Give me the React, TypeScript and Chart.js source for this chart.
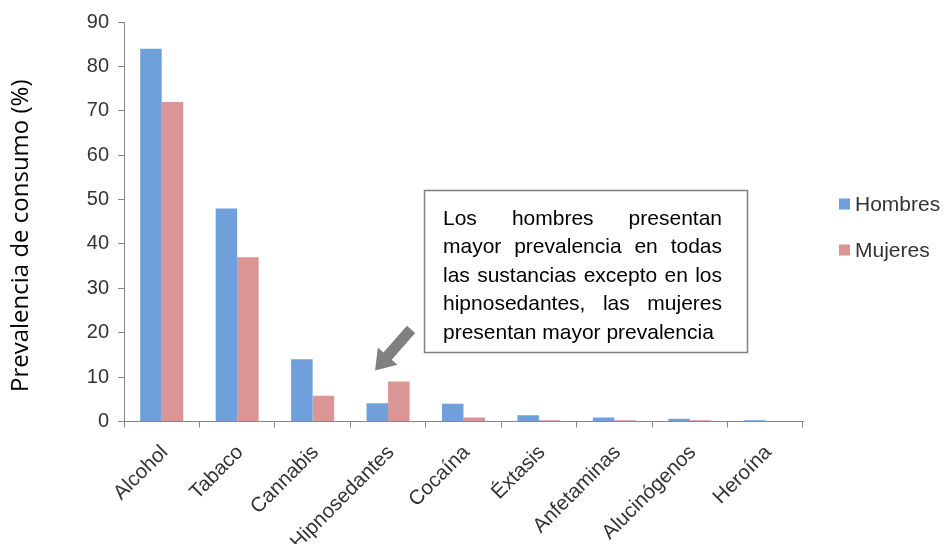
import React, { useEffect, useRef } from "react";
import { Chart, registerables } from "chart.js";

Chart.register(...registerables);

const categories = ["Alcohol", "Tabaco", "Cannabis", "Hipnosedantes", "Cocaína", "Éxtasis", "Anfetaminas", "Alucinógenos", "Heroína"];
const hombres = [84, 48, 14, 4.1, 4.0, 1.4, 0.9, 0.6, 0.3];
const mujeres = [72, 37, 5.8, 9.0, 0.9, 0.3, 0.3, 0.3, 0.1];
const seriesNames = ["Hombres", "Mujeres"];
const seriesColors = ["#6fa0dc", "#d99694"];
const yTitle = "Prevalencia de consumo (%)";
const noteLines = [
  "Los hombres presentan",
  "mayor prevalencia en todas",
  "las sustancias excepto en los",
  "hipnosedantes, las mujeres",
  "presentan mayor prevalencia",
];

const SANS = '"Liberation Sans", Arial, sans-serif';

const extrasPlugin = {
  id: "extras",
  afterDraw(chart: any) {
    const ctx = chart.ctx;
    const area = chart.chartArea;
    const xs = chart.scales.x;
    const ys = chart.scales.y;
    ctx.save();

    // Y axis title
    ctx.save();
    ctx.translate(21, (area.top + area.bottom) / 2 + 14);
    ctx.rotate(-Math.PI / 2);
    ctx.font = '24px "Open Sans", "Noto Sans", sans-serif';
    ctx.fillStyle = "#000";
    ctx.textAlign = "center";
    ctx.textBaseline = "middle";
    ctx.fillText(yTitle, 0, 0);
    ctx.restore();

    // Legend
    const lx = area.right + 36;
    const legendYs = [204, 250];
    ctx.font = "21px " + SANS;
    ctx.textBaseline = "middle";
    ctx.textAlign = "left";
    seriesNames.forEach((n, i) => {
      ctx.fillStyle = seriesColors[i];
      ctx.fillRect(lx, legendYs[i] - 5.5, 11, 11);
      ctx.fillStyle = "#333";
      ctx.fillText(n, lx + 16, legendYs[i] + 1);
    });

    // Annotation box
    const bx = 424.5, by = 190.5, bw = 323, bh = 162;
    ctx.strokeStyle = "#808080";
    ctx.lineWidth = 1.5;
    ctx.fillStyle = "#fff";
    ctx.fillRect(bx, by, bw, bh);
    ctx.strokeRect(bx, by, bw, bh);

    ctx.fillStyle = "#000";
    ctx.font = "21px " + SANS;
    ctx.textBaseline = "alphabetic";
    const tl = 443, tr = 722;
    const width = tr - tl;
    noteLines.forEach((line, i) => {
      const y = 224.5 + i * 28.6;
      const words = line.split(" ");
      if (i === noteLines.length - 1 || words.length < 2) {
        ctx.textAlign = "left";
        ctx.fillText(line, tl, y);
        return;
      }
      const ws = words.map((w) => ctx.measureText(w).width);
      const total = ws.reduce((a, b) => a + b, 0);
      const gap = (width - total) / (words.length - 1);
      let x = tl;
      ctx.textAlign = "left";
      words.forEach((w, k) => {
        ctx.fillText(w, x, y);
        x += ws[k] + gap;
      });
    });

    // Arrow pointing at Hipnosedantes
    const tipX = xs.getPixelForValue(3) - 13;
    const tipY = ys.getPixelForValue(11.5);
    const tailX = tipX + 36;
    const tailY = tipY - 41;
    const dx = tipX - tailX, dy = tipY - tailY;
    const len = Math.hypot(dx, dy);
    const ux = dx / len, uy = dy / len;
    const px = -uy, py = ux;
    const shaftHalf = 5.5, headHalf = 13, headLen = 19;
    const bxp = tipX - ux * headLen, byp = tipY - uy * headLen;
    ctx.fillStyle = "#808080";
    ctx.beginPath();
    ctx.moveTo(tailX + px * shaftHalf, tailY + py * shaftHalf);
    ctx.lineTo(bxp + px * shaftHalf, byp + py * shaftHalf);
    ctx.lineTo(bxp + px * headHalf, byp + py * headHalf);
    ctx.lineTo(tipX, tipY);
    ctx.lineTo(bxp - px * headHalf, byp - py * headHalf);
    ctx.lineTo(bxp - px * shaftHalf, byp - py * shaftHalf);
    ctx.lineTo(tailX - px * shaftHalf, tailY - py * shaftHalf);
    ctx.closePath();
    ctx.fill();

    ctx.restore();
  },
};

export default function App() {
  const ref = useRef<HTMLCanvasElement | null>(null);
  useEffect(() => {
    if (!ref.current) return;
    const chart = new Chart(ref.current, {
      type: "bar",
      data: {
        labels: categories,
        datasets: [
          { label: seriesNames[0], data: hombres, backgroundColor: seriesColors[0], categoryPercentage: 0.57, barPercentage: 1 },
          { label: seriesNames[1], data: mujeres, backgroundColor: seriesColors[1], categoryPercentage: 0.57, barPercentage: 1 },
        ],
      },
      options: {
        responsive: false,
        animation: false,
        devicePixelRatio: 1,
        layout: { padding: { top: 22, right: 141, left: 0, bottom: 0 } },
        plugins: { legend: { display: false }, tooltip: { enabled: false } },
        scales: {
          x: {
            grid: { display: true, drawOnChartArea: false, drawTicks: true, tickLength: 6, color: "#868686", offset: true },
            border: { color: "#868686", width: 1 },
            ticks: { font: { family: SANS, size: 20.5 }, color: "#333", maxRotation: 45, minRotation: 45, autoSkip: false, padding: 13, labelOffset: 3 },
            afterFit: (s: any) => { s.height = 122.5; },
          },
          y: {
            min: 0,
            max: 90,
            ticks: { stepSize: 10, font: { family: SANS, size: 20 }, color: "#333", padding: 9 },
            grid: { display: true, drawOnChartArea: false, drawTicks: true, tickLength: 6, color: "#868686" },
            border: { color: "#868686", width: 1 },
            afterFit: (s: any) => { s.width = 124; },
          },
        },
      } as any,
      plugins: [extrasPlugin],
    });
    return () => chart.destroy();
  }, []);
  return (
    <div style={{ position: "absolute", left: 0, top: 0, width: 944, height: 544, background: "#fff" }}>
      <canvas ref={ref} width={944} height={544} style={{ display: "block" }} />
    </div>
  );
}
